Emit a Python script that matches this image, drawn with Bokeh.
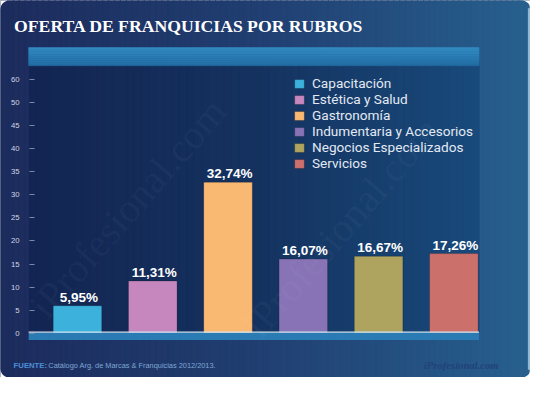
import math
from bokeh.plotting import figure
from bokeh.models import Range1d, FixedTicker, Label, ColumnDataSource, PolyAnnotation
from bokeh.embed import file_html
from bokeh.resources import INLINE
from bokeh.core.properties import value

# ---------------- data ----------------
categories = ["Capacitación", "Estética y Salud", "Gastronomía",
              "Indumentaria y Accesorios", "Negocios Especializados", "Servicios"]
shares = [5.95, 11.31, 32.74, 16.07, 16.67, 17.26]
bar_colors = ["#3bb1dc", "#c587be", "#fab972", "#8773b6", "#aea45f", "#cc706c"]
y_ticks = [0, 5, 10, 15, 20, 25, 30, 35, 40, 45, 50, 55]
y_tick_labels = ["0", "5", "10", "15", "20", "25", "30", "35", "40", "45", "50", "60"]
title_text = "OFERTA DE FRANQUICIAS POR RUBROS"
source_bold = "FUENTE:"
source_text = "Catálogo Arg. de Marcas & Franquicias 2012/2013."
brand_text = "iProfesional.com"

# ---------------- layout ----------------
W, H = 530, 377
RW, RH = 546, 393
SX, SY = W / RW, H / RH
FS = (SX + SY) / 2

c0 = 79.3 * SX
pitch = 77.55 * SX
z0 = 346.7 * SY
unit = 4.8 * SY


def X(rx):
    return (rx * SX - c0) / pitch


def Y(ry):
    return (z0 - ry * SY) / unit


def px(v):
    return f"{v * FS:.2f}px"


def h2r(h):
    h = h.lstrip("#")
    return [int(h[i:i + 2], 16) for i in (0, 2, 4)]


def grad(stops, t):
    for (t0, ca), (t1, cb) in zip(stops[:-1], stops[1:]):
        if t <= t1:
            f = 0 if t1 == t0 else (t - t0) / (t1 - t0)
            a, b = h2r(ca), h2r(cb)
            return "#%02x%02x%02x" % tuple(round(a[i] + (b[i] - a[i]) * f) for i in range(3))
    return stops[-1][1]


x_range = Range1d(-c0 / pitch, (W - c0) / pitch)
y_range = Range1d(-(H - z0) / unit, z0 / unit)

p = figure(width=W, height=H, x_range=x_range, y_range=y_range,
           output_backend="svg", toolbar_location=None,
           x_axis_location=None, y_axis_location="left",
           min_border_left=0, min_border_right=0, min_border_top=0, min_border_bottom=0,
           background_fill_color="#1c2b5c", border_fill_color="#1c2b5c",
           outline_line_color=None)
p.grid.visible = False


def vstripes(rx0, rx1, ry0, ry1, stops, n):
    L, R, B, T, C = [], [], [], [], []
    for i in range(n):
        a = rx0 + (rx1 - rx0) * i / n
        b = rx0 + (rx1 - rx0) * (i + 1) / n
        L.append(X(a)); R.append(X(b)); T.append(Y(ry0)); B.append(Y(ry1))
        C.append(grad(stops, (i + 0.5) / n))
    p.quad(left=L, right=R, bottom=B, top=T, fill_color=C, line_color=C, line_width=1)


def hstripes(rx0, rx1, ry0, ry1, stops, n):
    L, R, B, T, C = [], [], [], [], []
    for i in range(n):
        a = ry0 + (ry1 - ry0) * i / n
        b = ry0 + (ry1 - ry0) * (i + 1) / n
        L.append(X(rx0)); R.append(X(rx1)); T.append(Y(a)); B.append(Y(b))
        C.append(grad(stops, (i + 0.5) / n))
    p.quad(left=L, right=R, bottom=B, top=T, fill_color=C, line_color=C, line_width=0.5)


# outer background gradient
vstripes(-5, 546, -5, 400, [(0, "#1c2b5c"), (0.5, "#213f72"), (1, "#27608e")], 90)
# inner panel
vstripes(30, 493, 68, 346, [(0, "#132552"), (0.5, "#15325f"), (1, "#184a7b")], 60)
# header bar
hstripes(29, 493, 49, 68, [(0, "#338cc3"), (0.7, "#2878b0"), (1, "#226aa0")], 10)

# watermarks
for (wx, wy) in [(38, 325), (258, 345)]:
    p.add_layout(Label(x=X(wx), y=Y(wy), text=brand_text, angle=math.radians(49),
                       text_font="Liberation Serif", text_font_size=px(42),
                       text_color="white", text_alpha=0.045, text_baseline="alphabetic"))

# bars
idx = list(range(len(categories)))
src = ColumnDataSource(dict(x=idx, top=shares, cat=categories, color=bar_colors,
                            lab=[f"{v:.2f}".replace(".", ",") + "%" for v in shares]))
p.vbar(x="x", top="top", bottom=0, width=50 / 77.55, fill_color="color",
       line_color="#00000030", line_width=1, source=src, legend_field="cat")
p.text(x="x", y="top", text="lab", source=src, x_offset=1.5, y_offset=-8.6,
       text_font=value("Liberation Sans"), text_font_style="bold",
       text_font_size=px(14), text_color="white",
       text_align="center", text_baseline="alphabetic")

# bottom bar
p.quad(left=[X(29)], right=[X(493)], top=[Y(346.3)], bottom=[Y(354)],
       fill_color="#2a7bb3", line_color=None)
p.quad(left=[X(29)], right=[X(493)], top=[Y(345)], bottom=[Y(346.4)],
       fill_color="#d2e6f3", line_color=None)
# right light edge
p.quad(left=[X(543.3)], right=[X(545.2)], top=[Y(8)], bottom=[Y(385)],
       fill_color="#8db8d9", line_color=None)
p.quad(left=[X(545.2)], right=[X(550)], top=[Y(-5)], bottom=[Y(400)],
       fill_color="white", line_color=None)

# y axis drawn at the panel's left edge
ax = p.yaxis[0]
ax.fixed_location = X(30)
ax.ticker = FixedTicker(ticks=y_ticks)
ax.major_label_overrides = {t: l for t, l in zip(y_ticks, y_tick_labels)}
ax.axis_line_color = None
ax.major_tick_in = 5
ax.major_tick_out = 0
ax.major_tick_line_color = "#7d8ca6"
ax.minor_tick_line_color = None
ax.major_label_standoff = 10
ax.major_label_text_color = "#cfd6e4"
ax.major_label_text_font = "Liberation Sans"
ax.major_label_text_font_size = px(8)

# legend
lg = p.legend[0]
lg.location = (293, 206)
lg.background_fill_alpha = 0
lg.border_line_color = None
lg.padding = 0
lg.margin = 0
lg.spacing = 0
lg.glyph_width = 12
lg.glyph_height = 11
lg.label_standoff = 7
lg.label_height = 16
lg.label_text_font = "Roboto"
lg.label_text_font_size = "13.6px"
lg.label_text_color = "#e3e9f2"

# texts
p.add_layout(Label(x=X(14), y=Y(26.5), text=title_text, text_font="Liberation Serif",
                   text_font_style="bold", text_font_size=px(18.3), text_color="white",
                   text_baseline="alphabetic"))
p.add_layout(Label(x=X(13.5), y=Y(381), text=source_bold, text_font="Liberation Sans",
                   text_font_style="bold", text_font_size=px(8), text_color="#4d8fd6",
                   text_baseline="alphabetic"))
p.add_layout(Label(x=X(49.3), y=Y(381), text=source_text, text_font="Liberation Sans",
                   text_font_size=px(7.65), text_color="#7ea7d4", text_baseline="alphabetic"))
p.add_layout(Label(x=X(513), y=Y(380), text=brand_text, text_font="Liberation Serif",
                   text_font_style="bold italic", text_font_size=px(11), text_color="#22427a",
                   text_align="right", text_baseline="alphabetic"))

# rounded corners
R = 9
def corner(cx, cy, sxn, syn):
    pts = [(cx - sxn * 2, cy - syn * 2)]
    for k in range(0, 11):
        th = math.radians(90 * k / 10)
        pts.append((cx + sxn * (R - R * math.cos(th)), cy + syn * (R - R * math.sin(th))))
    return pts

for cx, cy, a, b in [(0, 0, 1, 1), (546, 0, -1, 1), (0, 393, 1, -1), (546, 393, -1, -1)]:
    pts = corner(cx, cy, a, b)
    p.add_layout(PolyAnnotation(xs=[X(q[0]) for q in pts], ys=[Y(q[1]) for q in pts],
                                fill_color="white", fill_alpha=1, line_color=None))

open("out.html", "w").write(file_html(p, INLINE))
